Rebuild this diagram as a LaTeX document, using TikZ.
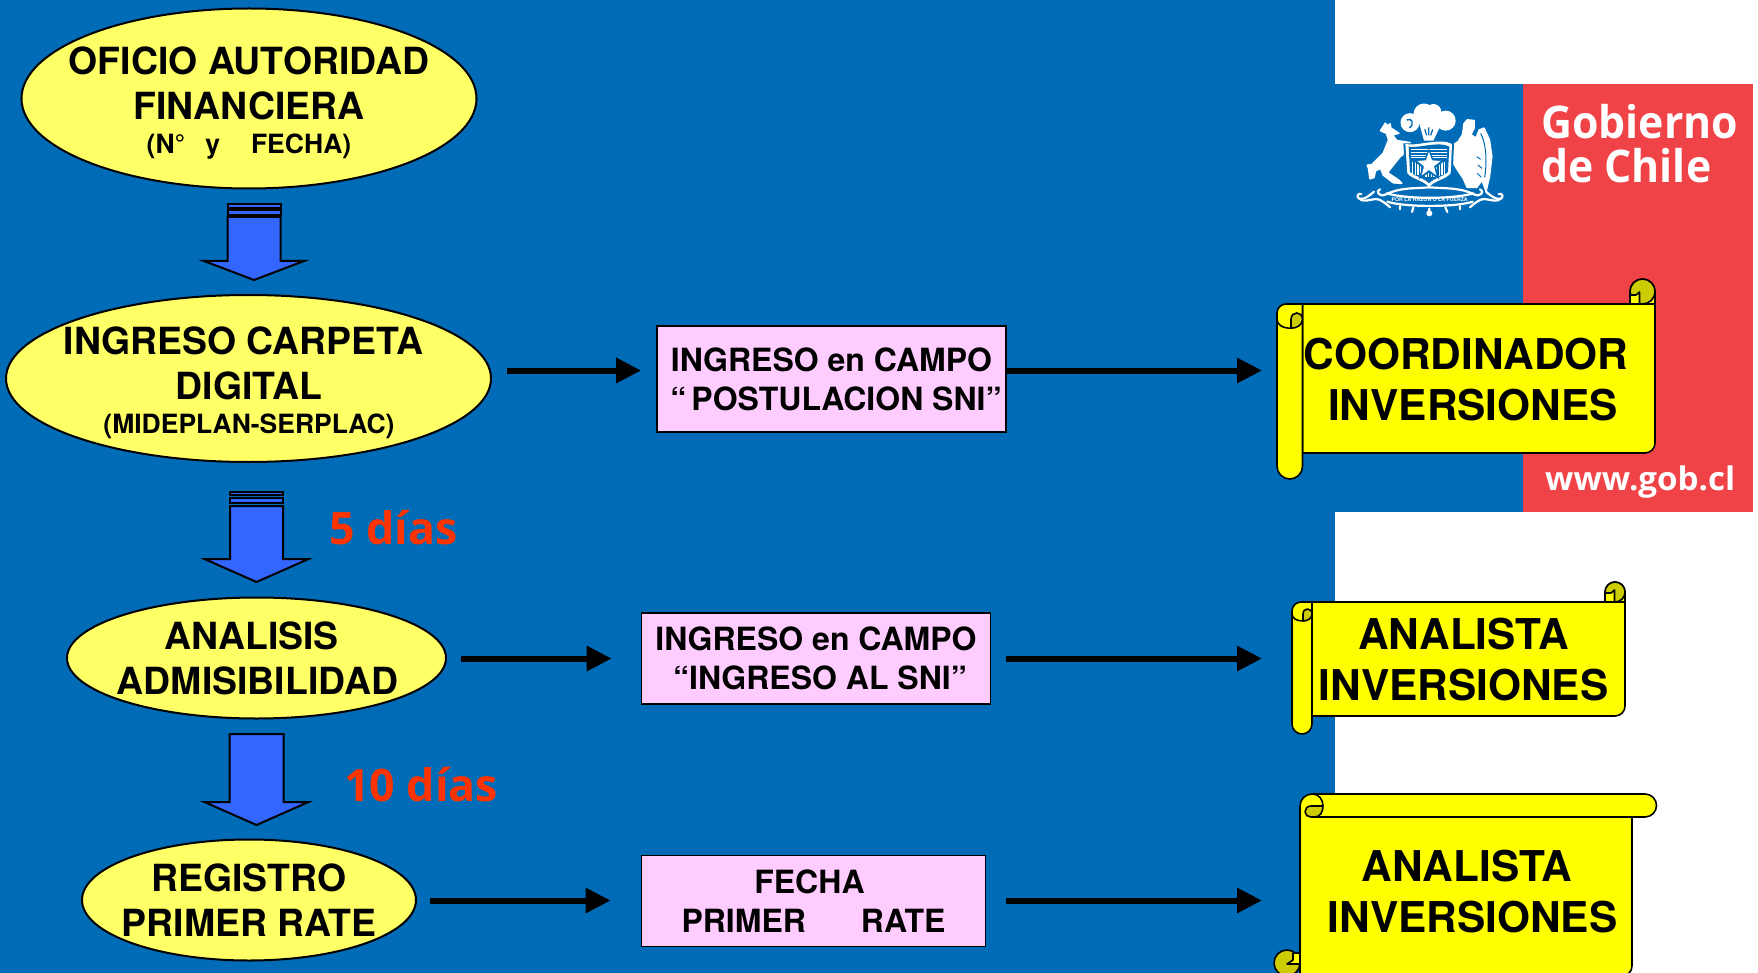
\documentclass[tikz,border=0pt]{standalone}
\usepackage{fontspec}
\setmainfont{TeX Gyre Heros}
\newfontfamily\opensans{Open Sans}
\newfontfamily\gobfont[FakeStretch=0.95]{Open Sans}
\newfontfamily\gobwide[FakeStretch=1.02]{Open Sans}
\usetikzlibrary{arrows.meta,shapes.geometric}
\definecolor{bgblue}{RGB}{0,107,182}
\definecolor{gobred}{RGB}{240,67,71}
\definecolor{ellfill}{RGB}{255,255,102}
\definecolor{pinkbox}{RGB}{255,204,255}
\definecolor{arrblue}{RGB}{51,102,255}
\definecolor{dayred}{RGB}{255,51,0}
\definecolor{curl}{RGB}{204,204,0}
\definecolor{scrollyellow}{RGB}{255,255,0}
\newcommand{\fs}[2]{\fontsize{#1}{#2}\selectfont}
\tikzset{
  ell/.style={ellipse,draw=black,line width=2pt,fill=ellfill,inner sep=0pt},
  big/.style={align=center,font=\bfseries\fs{37.4}{45},inner sep=0pt,text=black},
  pbox/.style={rectangle,draw=black,line width=1.6pt,fill=pinkbox,align=center,font=\bfseries\fs{32}{39},inner sep=0pt},
  stext/.style={align=center,font=\bfseries\fs{42.4}{51},inner sep=0pt,text=black},
  days/.style={font=\opensans\bfseries\fs{44.7}{50},text=dayred,inner sep=0pt,anchor=base west},
  gob/.style={font=\gobfont\bfseries\fs{45}{44},text=white,inner sep=0pt,anchor=base west},
  conn/.style={line width=6pt,-{Triangle[length=25pt,width=24pt]}},
  blockarr/.style={draw=black,line width=2pt,fill=arrblue,line join=miter},
  sy/.style={draw=black,line width=1.6pt,fill=scrollyellow,line join=round},
  sd/.style={draw=black,line width=1.6pt,fill=curl,line join=round},
  cw/.style={fill=white,draw=none},
  cwf/.style={fill=white,draw=white,line width=1.8pt,line join=round},
  cb/.style={fill=bgblue,draw=none},
  orn/.style={draw=white,line width=2.2pt,line cap=round,line join=round},
}
% scroll with a vertical roller on the left (y axis points down, so arc angles are negated)
% #1 L, #2 M, #3 R, #4 T, #5 B, #6 roller bottom, #7 curl radius
\newcommand{\vscroll}[7]{%
  \pgfmathsetmacro{\rw}{#2-#1}
  \pgfmathsetmacro{\rax}{#1+0.55*\rw}
  \pgfmathsetmacro{\rya}{#4+0.6*\rw}
  \pgfmathsetmacro{\ryb}{#4+0.95*\rw}
  \pgfmathsetmacro{\ryt}{#4+0.27*\rw}
  \pgfmathsetmacro{\rcx}{#3-#7}
  \pgfmathsetmacro{\rcy}{#4-#7}
  \pgfmathsetmacro{\rlx}{#3-2*#7}
  \draw[sy] (#2,#4) -- (\rlx,#4) -- (\rlx,\rcy) arc (-180:0:#7) -- (#3,#5-10) arc (0:90:10) -- (#2,#5) -- cycle;
  \draw[sd] (\rcx,\rcy) circle (#7);
  \draw[sy] (\rlx,#4) -- (\rlx,#4-9) -- (\rlx+6,#4-9) -- (\rlx+9.5,#4-12) -- (\rlx+9.5,#4) -- cycle;
  \draw[sy,fill=none] (#2,#4) -- (#3-1,#4);
  \draw[sy] (#1,#4+9) arc (-180:-90:9) -- (#2,#4) -- (#2,#6-0.5*\rw) arc (0:180:0.5*\rw) -- cycle;
  \draw[sd] (\rax,\ryb) -- (\rax,\rya) .. controls (\rax,\ryt) and (#2,\ryt) .. (#2,\rya) .. controls (#2,#4+0.8*\rw) and (#2-0.2*\rw,\ryb) .. (\rax,\ryb);
  \draw[sy,fill=none] (#1,\rya) .. controls (#1,#4+0.8*\rw) and (#1+0.2*\rw,\ryb) .. (\rax,\ryb);
}
% block arrow: #1 cx, #2 half shaft, #3 half head, #4 top, #5 head y, #6 tip
\newcommand{\blockarrow}[6]{%
  \draw[blockarr] (#1-#2,#4) -- (#1+#2,#4) -- (#1+#2,#5) -- (#1+#3,#5) -- (#1,#6) -- (#1-#3,#5) -- (#1-#2,#5) -- cycle;
}
\begin{document}
\begin{tikzpicture}[x=1pt,y=-1pt]
\useasboundingbox (0,0) rectangle (1758,973);
\fill[white] (0,0) rectangle (1758,973);
\fill[bgblue] (0,0) rectangle (1335,973);
\fill[bgblue] (1335,84) rectangle (1523,512);
\fill[gobred] (1523,84) rectangle (1753,512);

% logo text
\node[gob] (gob1) at (1541,139) {Gobierno};
\node[gob] (gob2) at (1541,183) {de Chile};
\node[gob,font=\gobwide\bfseries\fs{32.5}{36}] (gob3) at (1545,490) {www.gob.cl};

% coat of arms
\begin{scope}[shift={(1350,100)},x=0.3333pt,y=-0.3333pt]
  % plumes
  \fill[cw] (180,68) circle (9.5pt);
  \fill[cw] (222,42) circle (10.5pt);
  \fill[cw] (250,36) circle (8pt);
  \fill[cw] (287,62) circle (10pt);
  \fill[cw] (262,62) circle (7pt);
  \fill[cw] (205,60) -- (275,70) -- (250,122) -- (222,122) -- cycle;
  \draw[bgblue,line width=1.4pt] (170,60) .. controls (186,52) and (194,72) .. (178,84);
  \draw[bgblue,line width=1.2pt] (236,82) -- (236,106) (224,88) -- (230,106) (248,88) -- (242,106);
  % huemul
  \filldraw[cwf] (92,92) -- (100,80) -- (106,70) -- (112,78) -- (120,72) -- (122,84) -- (146,100) -- (126,104) -- (140,122)
     -- (180,128) -- (172,152) -- (150,170) -- (122,205) -- (112,218) -- (145,240) -- (155,250) -- (130,248) -- (100,225)
     -- (92,205) -- (76,212) -- (72,232) -- (60,236) -- (56,205) -- (52,196) -- (66,194) -- (100,160) -- (116,120) -- (110,100) -- cycle;
  % condor
  \filldraw[cwf] (340,90) -- (342,72) -- (352,60) -- (372,62) -- (372,84) -- (362,104) -- (378,115) -- (388,90) -- (402,85)
     -- (418,120) -- (425,170) -- (418,230) -- (408,272) -- (396,240) -- (380,262) -- (352,262) -- (340,235)
     -- (320,205) -- (300,172) -- (300,142) -- (325,125) -- (338,104) -- cycle;
  \draw[bgblue,line width=1pt] (392,100) .. controls (408,130) and (412,180) .. (404,232);
  \draw[bgblue,line width=1pt] (380,170) -- (392,178) (384,195) -- (396,205) (382,220) -- (394,232);
  % shield
  \fill[bgblue] (160,130) -- (312,130) -- (308,226) -- (237,268) -- (166,226) -- cycle;
  \fill[cw] (166,132) .. controls (200,140) and (270,112) .. (306,132) -- (302,220) .. controls (285,240) and (255,240) .. (237,262)
     .. controls (220,240) and (190,240) .. (172,220) -- cycle;
  \fill[cb] (176,140) .. controls (205,146) and (265,122) .. (298,140) -- (294,216) .. controls (280,230) and (255,232) .. (237,250)
     .. controls (220,232) and (195,230) .. (180,216) -- cycle;
  \foreach \yy in {148,156,164,172}{\fill[cw] (184,\yy) rectangle (290,\yy+3.5);}
  \foreach \xx in {186,194,...,288}{\fill[cw] (\xx,186) rectangle ({\xx+3.5},{232-0.18*abs(\xx-237)});}
  \fill[cb] (237,145) -- (250,178) -- (287,180) -- (258,202) -- (268,238) -- (237,218) -- (206,238) -- (216,202) -- (187,180) -- (224,178) -- cycle;
  \fill[cw] (237,155) -- (246,181) -- (272,183) -- (252,199) -- (259,226) -- (237,210) -- (215,226) -- (222,199) -- (202,183) -- (228,181) -- cycle;
  % base scrollwork
  \draw[orn] (72,275) .. controls (60,285) and (45,300) .. (28,296) .. controls (18,292) and (22,278) .. (34,282);
  \draw[orn] (28,296) .. controls (45,312) and (70,290) .. (90,300) .. controls (100,306) and (110,312) .. (120,322);
  \draw[orn] (408,275) .. controls (420,285) and (435,300) .. (452,296) .. controls (462,292) and (458,278) .. (446,282);
  \draw[orn] (452,296) .. controls (435,312) and (410,290) .. (390,300) .. controls (380,306) and (370,312) .. (360,322);
  \draw[orn] (90,268) .. controls (76,272) and (86,292) .. (106,284) .. controls (150,262) and (190,266) .. (238,262);
  \draw[orn] (390,268) .. controls (404,272) and (394,292) .. (374,284) .. controls (330,262) and (290,266) .. (238,262);
  \draw[orn] (112,305) .. controls (160,322) and (320,322) .. (368,305);
  \draw[orn] (110,280) .. controls (170,298) and (310,298) .. (370,280);
  \draw[orn] (150,318) -- (150,328) (190,322) -- (186,336) (238,326) -- (238,338) (286,322) -- (292,336) (330,318) -- (330,328);
  \fill[cw] (238,340) circle (3pt);
  \node[text=white,font=\bfseries\fs{5.2}{6},inner sep=0pt] (lema) at (239,300) {POR LA RAZON O LA FUERZA};
\end{scope}

% block arrows
\blockarrow{254}{26.5}{50}{217}{261}{280}
\draw[blockarr] (228,204) rectangle (281,208);
\draw[blockarr,line width=1.6pt] (228,210) rectangle (281,215);
\blockarrow{256.5}{26.5}{52}{506}{559}{582}
\draw[blockarr] (230,492) rectangle (283,495);
\draw[blockarr,line width=1.6pt] (230,498) rectangle (283,503);
\blockarrow{256.5}{27}{52}{734}{802}{825}

% ellipses
\node[ell,minimum width=455pt,minimum height=180pt] (e1) at (249,98.5) {};
\node[ell,minimum width=485pt,minimum height=167pt] (e2) at (248.5,378.5) {};
\node[ell,minimum width=379pt,minimum height=121pt] (e3) at (256.5,658) {};
\node[ell,minimum width=334pt,minimum height=121pt] (e4) at (249,900) {};
\node[big] (t1) at (249,103) {OFICIO AUTORIDAD\\FINANCIERA\\[-11pt]{\fs{26.5}{32}(N°\hspace{20pt}y\hspace{31pt}FECHA)}};
\node[big] (t2) at (249,383) {INGRESO CARPETA\hspace*{11pt}\\DIGITAL\\[-11pt]{\fs{26.5}{32}(MIDEPLAN-SERPLAC)}};
\node[big] (t3) at (257.5,658) {ANALISIS\hspace*{12pt}\\ADMISIBILIDAD};
\node[big] (t4) at (249,900) {REGISTRO\\PRIMER RATE};

% pink boxes
\node[pbox,minimum width=349pt,minimum height=106pt] (p1) at (831.5,379) {INGRESO en CAMPO\\\hspace*{9pt}“\hspace{5pt}POSTULACION SNI”};
\node[pbox,minimum width=349pt,minimum height=91pt] (p2) at (816,658.5) {INGRESO en CAMPO\\\hspace*{8pt}“INGRESO AL SNI”};
\node[pbox,minimum width=344pt,minimum height=91pt] (p3) at (813.5,901) {FECHA\hspace*{8pt}\\PRIMER\hspace{55pt}RATE};

% scrolls
\vscroll{1277}{1302.5}{1655}{304}{453}{479}{12.5}
\vscroll{1292}{1312}{1625}{602}{716}{734}{10}
% bottom scroll
\draw[sd] (1287,963) circle (13);
\draw[sy] (1300,953) -- (1293,953) -- (1293,960) -- (1287,964) -- (1300,964) -- cycle;
\draw[sy] (1300,806) arc (-180:-90:12) -- (1645,794) arc (-90:90:11.5) -- (1632,817) -- (1632,966) arc (0:90:10) -- (1300,976) -- cycle;
\draw[sd] (1323,806) -- (1311,806) .. controls (1307,806) and (1305,809) .. (1305,812) .. controls (1305,815) and (1308,817) .. (1311,817) -- (1315,817) .. controls (1320,817) and (1323,812) .. (1323,806);
\draw[sy,fill=none] (1313,794) .. controls (1319,794) and (1323,800) .. (1323,806);
\draw[sy,fill=none] (1314,817) -- (1645,817);

\node[stext] (s1) at (1473,380) {COORDINADOR\hspace*{14pt}\\INVERSIONES};
\node[stext] (s2) at (1463.5,660) {ANALISTA\\INVERSIONES};
\node[stext] (s3) at (1472.5,892) {ANALISTA\hspace*{11pt}\\INVERSIONES};

% day labels
\node[days] (d1) at (329,544) {5 días};
\node[days] (d2) at (344,801) {10 días};

% connectors
\coordinate (la) at (0,370.5);
\coordinate (lb) at (0,658.5);
\coordinate (lc) at (0,900.5);
\coordinate (s1in) at (1262,370.5);
\coordinate (s2in) at (1262,658.5);
\coordinate (s3in) at (1262,900.5);
\draw[conn,shorten <=15pt,shorten >=15pt] (e2.east |- la) -- (p1.west |- la);
\draw[conn] (p1.east |- la) -- (s1in);
\draw[conn,shorten <=14pt,shorten >=29pt] (e3.east |- lb) -- (p2.west |- lb);
\draw[conn,shorten <=15pt] (p2.east |- lb) -- (s2in);
\draw[conn,shorten <=13pt,shorten >=30pt] (e4.east |- lc) -- (p3.west |- lc);
\draw[conn,shorten <=20pt] (p3.east |- lc) -- (s3in);
\end{tikzpicture}
\end{document}
